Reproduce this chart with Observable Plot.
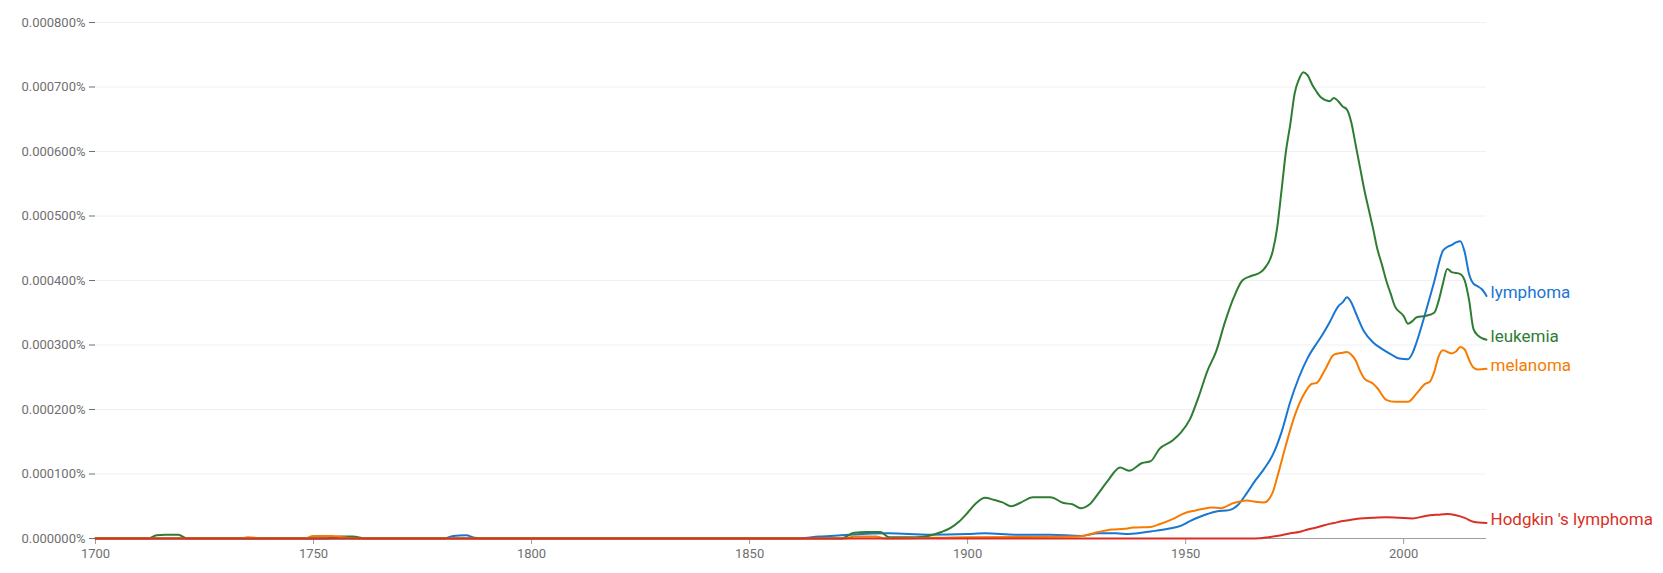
<!DOCTYPE html>
<html>
<head>
<meta charset="utf-8">
<script src="https://cdn.jsdelivr.net/npm/d3@7"></script>
<script src="https://cdn.jsdelivr.net/npm/@observablehq/plot@0.6"></script>
<style>
  body { margin: 0; background: #fff; }
  #chart svg { font-family: Roboto, "Noto Sans", sans-serif; }
</style>
</head>
<body>
<div id="chart"></div>
<script>
// ---- data (values are in percent) ----
const seriesNames = ["lymphoma", "leukemia", "melanoma", "Hodgkin 's lymphoma"];
const seriesColors = ["#1976d2", "#2e7d32", "#f57c00", "#d93025"];

const xTicks = [1700, 1750, 1800, 1850, 1900, 1950, 2000];
const yTicks = [0, 0.0001, 0.0002, 0.0003, 0.0004, 0.0005, 0.0006, 0.0007, 0.0008];

const lymphomaYears = [1700, 1780, 1782, 1785, 1787, 1789, 1860, 1866, 1873, 1882, 1891, 1900, 1904, 1911, 1919, 1926, 1930, 1934, 1937, 1942, 1946, 1949, 1951, 1953, 1955, 1957, 1960, 1962, 1964, 1966, 1968, 1970, 1972, 1974, 1976, 1978, 1980, 1981, 1983, 1985, 1986, 1987, 1988, 1989, 1991, 1993, 1995, 1997, 1999, 2001, 2002, 2003, 2005, 2007, 2009, 2010, 2011, 2012, 2013, 2014, 2015, 2016, 2017, 2018, 2019];
const lymphomaValues = [0, 0, 0.000004, 0.000005, 0.000001, 0, 0, 0.000003, 0.000006, 0.000008, 0.000006, 0.000007, 0.000008, 0.000006, 0.000006, 0.000004, 0.000008, 0.000008, 0.000007, 0.000011, 0.000015, 0.00002, 0.000027, 0.000033, 0.000038, 0.000042, 0.000044, 0.000052, 0.00007, 0.00009, 0.000108, 0.00013, 0.000165, 0.000212, 0.00025, 0.00028, 0.000302, 0.000312, 0.000335, 0.00036, 0.000366, 0.000374, 0.000366, 0.00035, 0.00032, 0.000304, 0.000294, 0.000286, 0.000279, 0.000278, 0.000287, 0.000305, 0.00035, 0.000398, 0.000446, 0.000452, 0.000455, 0.000459, 0.000461, 0.000444, 0.00041, 0.000395, 0.000391, 0.000386, 0.000376];

const leukemiaYears = [1700, 1712, 1714, 1716, 1719, 1721, 1753, 1756, 1759, 1762, 1871, 1874, 1877, 1880, 1882, 1888, 1891, 1894, 1896, 1898, 1900, 1902, 1904, 1906, 1908, 1910, 1912, 1915, 1919, 1922, 1924, 1926, 1928, 1930, 1932, 1935, 1937, 1940, 1942, 1944, 1947, 1949, 1951, 1953, 1955, 1957, 1959, 1961, 1963, 1965, 1967, 1968, 1970, 1971, 1972, 1973, 1974, 1975, 1976, 1977, 1978, 1979, 1980, 1981, 1983, 1984, 1985, 1986, 1987, 1988, 1989, 1990, 1991, 1992, 1993, 1994, 1995, 1996, 1997, 1998, 2000, 2001, 2002, 2003, 2005, 2007, 2008, 2009, 2010, 2011, 2013, 2014, 2015, 2016, 2017, 2019];
const leukemiaValues = [0, 0, 0.000005, 0.000006, 0.000006, 0, 0, 0.000003, 0.000003, 0, 0, 0.000009, 0.00001, 0.00001, 0.000002, 0.000002, 0.000004, 0.00001, 0.000016, 0.000026, 0.00004, 0.000055, 0.000063, 0.00006, 0.000056, 0.00005, 0.000055, 0.000064, 0.000064, 0.000055, 0.000053, 0.000047, 0.000053, 0.00007, 0.000088, 0.00011, 0.000105, 0.000117, 0.00012, 0.000139, 0.000152, 0.000165, 0.000185, 0.00022, 0.00026, 0.00029, 0.000335, 0.000373, 0.0004, 0.000407, 0.000412, 0.000418, 0.000446, 0.000482, 0.00054, 0.0006, 0.000642, 0.00069, 0.000712, 0.000723, 0.000718, 0.000704, 0.000693, 0.000684, 0.000678, 0.000683, 0.000678, 0.00067, 0.000665, 0.000645, 0.00061, 0.000575, 0.00054, 0.00051, 0.00048, 0.000448, 0.000425, 0.0004, 0.00038, 0.00036, 0.000345, 0.000333, 0.000337, 0.000343, 0.000345, 0.00035, 0.000368, 0.000395, 0.000418, 0.000413, 0.00041, 0.0004, 0.00037, 0.000325, 0.000315, 0.000308];

const melanomaYears = [1700, 1733, 1735, 1738, 1748, 1750, 1754, 1757, 1759, 1872, 1874, 1879, 1881, 1900, 1925, 1927, 1930, 1933, 1936, 1938, 1942, 1944, 1947, 1950, 1952, 1954, 1956, 1958, 1961, 1964, 1966, 1968, 1970, 1971, 1973, 1975, 1977, 1979, 1980, 1982, 1984, 1986, 1987, 1988, 1989, 1990, 1991, 1993, 1994, 1996, 1998, 2001, 2003, 2005, 2006, 2007, 2008, 2009, 2011, 2012, 2013, 2014, 2015, 2016, 2017, 2019];
const melanomaValues = [0, 0, 0.000002, 0, 0, 0.000004, 0.000004, 0.000002, 0, 0, 0.000003, 0.000003, 0, 0.000002, 0.000003, 0.000005, 0.00001, 0.000014, 0.000015, 0.000017, 0.000018, 0.000022, 0.00003, 0.00004, 0.000043, 0.000046, 0.000048, 0.000047, 0.000055, 0.000059, 0.000057, 0.000056, 0.000072, 0.000095, 0.000145, 0.00019, 0.000222, 0.00024, 0.000241, 0.000262, 0.000285, 0.000288, 0.000289, 0.000285, 0.000276, 0.00026, 0.000248, 0.00024, 0.000233, 0.000215, 0.000212, 0.000212, 0.000225, 0.00024, 0.000243, 0.000258, 0.000282, 0.000292, 0.000287, 0.00029, 0.000297, 0.000293, 0.000277, 0.000265, 0.000262, 0.000263];

const hodgkinYears = [1700, 1966, 1969, 1972, 1974, 1976, 1978, 1980, 1982, 1984, 1986, 1988, 1990, 1993, 1996, 1999, 2002, 2005, 2008, 2010, 2012, 2014, 2016, 2019];
const hodgkinValues = [0, 0, 0.000002, 0.000005, 0.000008, 0.00001, 0.000014, 0.000017, 0.000021, 0.000024, 0.000027, 0.000029, 0.000031, 0.000032, 0.000033, 0.000032, 0.000031, 0.000035, 0.000037, 0.000038, 0.000036, 0.000032, 0.000026, 0.000024];

// ---- build table ----
const seriesData = [
  [lymphomaYears, lymphomaValues],
  [leukemiaYears, leukemiaValues],
  [melanomaYears, melanomaValues],
  [hodgkinYears, hodgkinValues]
];
const rows = [];
seriesData.forEach(([ys, vs], i) => {
  ys.forEach((y, j) => rows.push({series: seriesNames[i], year: y, value: vs[j]}));
});

const chart = Plot.plot({
  width: 1663,
  height: 573,
  marginLeft: 95,
  marginRight: 177,
  marginTop: 22,
  marginBottom: 35,
  style: {fontFamily: "Roboto, 'Noto Sans', sans-serif", background: "#fff", overflow: "visible"},
  x: {domain: [1700, 2019], ticks: xTicks, tickFormat: "d", label: null},
  y: {domain: [0, 0.0008], ticks: yTicks, tickFormat: d => d.toFixed(6) + "%", label: null},
  color: {domain: seriesNames, range: seriesColors},
  marks: [
    Plot.gridY(yTicks, {stroke: "#f0f0f0", strokeOpacity: 1, strokeWidth: 1}),
    Plot.axisY({ticks: yTicks, tickSize: 6, tickPadding: 4, fontSize: 13, color: "#6f6f6f", stroke: "#6f6f6f", label: null, tickFormat: d => d.toFixed(6) + "%"}),
    Plot.ruleY([0], {stroke: "#9e9e9e"}),
    Plot.axisX({ticks: xTicks, tickSize: 6, tickPadding: 4, fontSize: 13, color: "#6f6f6f", stroke: "#9e9e9e", tickFormat: "d", label: null}),
    Plot.line(rows, {x: "year", y: "value", z: "series", stroke: "series", strokeWidth: 2, curve: "monotone-x"}),
    Plot.text(rows, Plot.selectLast({x: "year", y: "value", z: "series", text: "series", fill: "series", dx: 4, dy: -3, textAnchor: "start", fontSize: 17}))
  ]
});
document.getElementById("chart").appendChild(chart);
</script>
</body>
</html>
